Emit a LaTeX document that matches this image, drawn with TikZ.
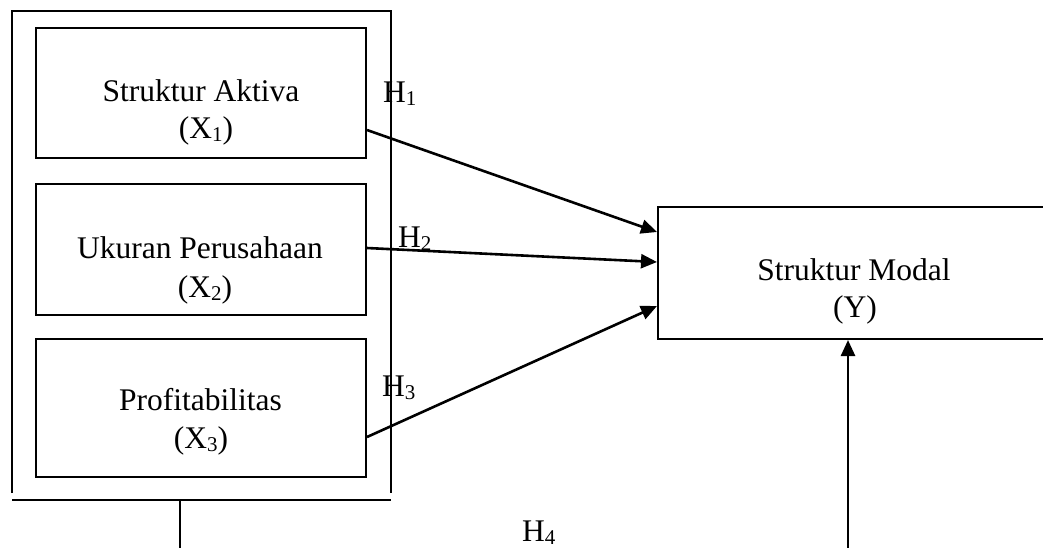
\documentclass[tikz,border=0pt]{standalone}
\usepackage{fontspec}
\setmainfont{Liberation Serif}
\usetikzlibrary{arrows.meta}
\newcommand\mysubs[1]{\raisebox{-0.1em}{\fontsize{21}{21}\selectfont #1}}
\begin{document}
\begin{tikzpicture}[x=1pt,y=-1pt,
  box/.style={draw,line width=2pt,rectangle,inner sep=0pt},
  txt/.style={inner sep=0pt,anchor=base,font=\fontsize{31.5}{38}\selectfont},
  hlab/.style={inner sep=0pt,anchor=base west,font=\fontsize{31.5}{38}\selectfont},
  frame/.style={line width=2pt},
  arr/.style={line width=2.6pt,-{Triangle[length=16pt,width=14pt]}}]
\useasboundingbox (0,0) rectangle (1043,547);
\clip (0,0) rectangle (1043,547);
% outer frame
\coordinate (fbl) at (12,493);
\coordinate (ftl) at (12,11);
\coordinate (ftr) at (391,11);
\coordinate (fbr) at (391,493);
\draw[frame] (fbl) -- (ftl) -- (ftr) -- (fbr);
\coordinate (hl) at (12,500);
\coordinate (hr) at (391,500);
\draw[frame] (hl) -- (hr);
\coordinate (hm) at (180,500);
\coordinate (hb) at (180,560);
\draw[frame] (hm) -- (hb);
% inner boxes
\node[box,minimum width=330pt,minimum height=130pt] (b1) at (201,93) {};
\node[box,minimum width=330pt,minimum height=131pt] (b2) at (201,249.5) {};
\node[box,minimum width=330pt,minimum height=138pt] (b3) at (201,408) {};
\node[txt] (t1a) at (201,101) {Struktur Aktiva};
\node[txt] (t1b) at (206,138) {(X\mysubs{1})};
\node[txt] (t2a) at (200,258) {Ukuran Perusahaan};
\node[txt] (t2b) at (205,297) {(X\mysubs{2})};
\node[txt] (t3a) at (200.5,410) {Profitabilitas};
\node[txt] (t3b) at (201,448) {(X\mysubs{3})};
% dependent box
\node[box,minimum width=390pt,minimum height=132pt] (Y) at (853,273) {};
\node[txt] (tya) at (854,280) {Struktur Modal};
\node[txt] (tyb) at (855,317) {(Y)};
% hypothesis labels
\node[hlab] (h1) at (383,102) {H\mysubs{1}};
\node[hlab] (h2) at (398,247) {H\mysubs{2}};
\node[hlab] (h3) at (382,396) {H\mysubs{3}};
\node[hlab] (h4) at (522,541) {H\mysubs{4}};
% arrows
\draw[arr] ([yshift=-37pt]b1.east) -- ([yshift=41pt]Y.west);
\draw[arr] ([yshift=1.5pt]b2.east) -- ([yshift=11pt]Y.west);
\draw[arr] ([yshift=-29pt]b3.east) -- ([yshift=-33pt]Y.west);
\coordinate (h4s) at (848,560);
\draw[arr] (h4s) -- (h4s |- Y.south);
\end{tikzpicture}
\end{document}
